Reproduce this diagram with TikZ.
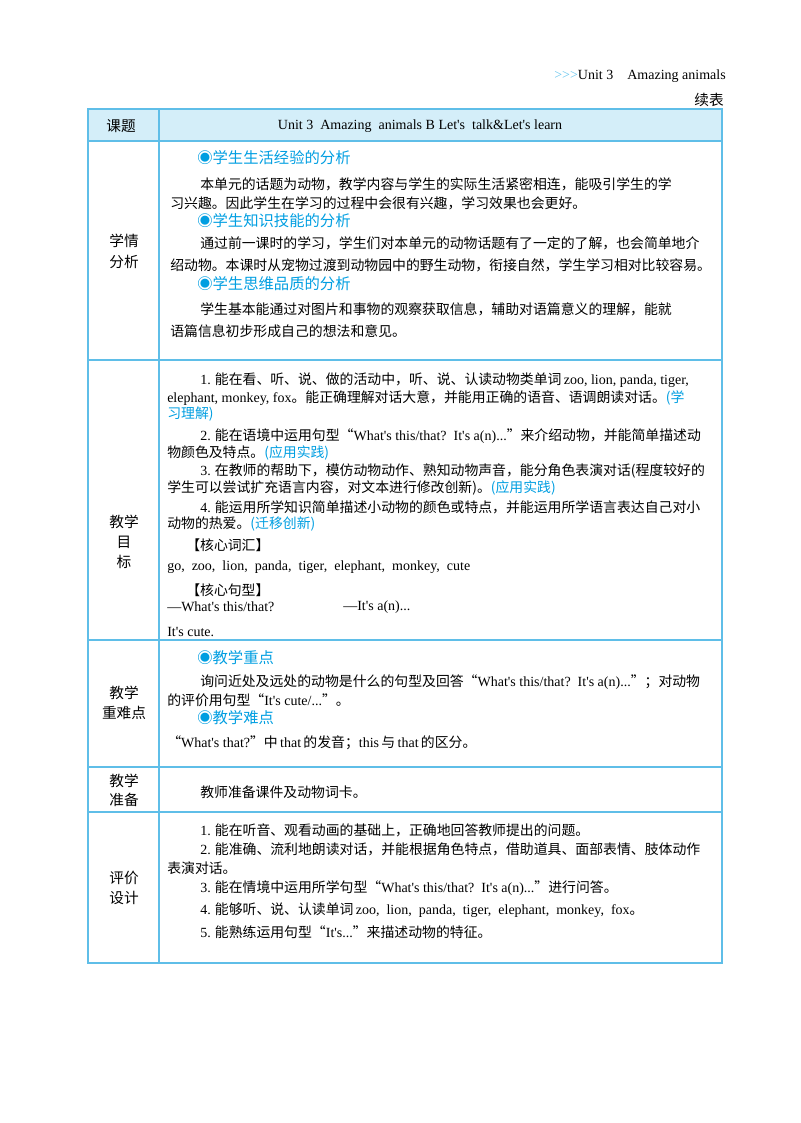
\documentclass[tikz,border=0pt]{standalone}
\usepackage{fontspec}
\setmainfont{Noto Sans CJK SC}
\newfontfamily\enf{Liberation Serif}
\newcommand{\en}[1]{{\enf\fontsize{10.5pt}{12pt}\selectfont #1}}
\definecolor{bl}{RGB}{0,158,225}
\definecolor{hdr}{RGB}{212,238,249}
\definecolor{bd}{RGB}{95,190,232}
\begin{document}
\begin{tikzpicture}[x=0.75pt,y=-0.75pt,
  t/.style={anchor=west,inner sep=0pt,font=\fontsize{10.4pt}{12pt}\selectfont},
  h/.style={t,text=bl,font=\fontsize{11.5pt}{13pt}\selectfont},
  lab/.style={inner sep=0pt,font=\fontsize{11pt}{13pt}\selectfont}]
\useasboundingbox (0,0) rectangle (800,1123);
\fill[hdr] (88,109) rectangle (722,141);
\draw[bd,line width=1pt] (88,109) rectangle (722,963);
\foreach \y in {141,360,640,767,812} \draw[bd,line width=0.8pt] (88,\y) -- (722,\y);
\draw[bd,line width=0.8pt] (159,109) -- (159,963);
\node[anchor=east,inner sep=0pt] (run) at (726,76) {\textcolor{bl!60}{\en{>>>}}\en{Unit 3\quad Amazing animals}};
\node[anchor=east,inner sep=0pt,font=\fontsize{11pt}{13pt}\selectfont] (xb) at (724,100) {续表};
% header
\node[lab] (kt) at (121,126) {课题};
\node[inner sep=0pt] (title) at (420,126) {\en{Unit 3\ \ Amazing\ \ animals B Let's\ \ talk\&Let's learn}};
% row 2
\node[lab] (a1) at (124,241) {学情};
\node[lab] (a2) at (124,262) {分析};
\node[h] (h1) at (197,158) {◉学生生活经验的分析};
\node[t] (l1) at (200,184) {本单元的话题为动物，教学内容与学生的实际生活紧密相连，能吸引学生的学};
\node[t] (l2) at (170,203) {习兴趣。因此学生在学习的过程中会很有兴趣，学习效果也会更好。};
\node[h] (h2) at (197,221) {◉学生知识技能的分析};
\node[t] (l3) at (200,243) {通过前一课时的学习，学生们对本单元的动物话题有了一定的了解，也会简单地介};
\node[t] (l4) at (170,265) {绍动物。本课时从宠物过渡到动物园中的野生动物，衔接自然，学生学习相对比较容易。};
\node[h] (h3) at (197,284) {◉学生思维品质的分析};
\node[t] (l5) at (200,309) {学生基本能通过对图片和事物的观察获取信息，辅助对语篇意义的理解，能就};
\node[t] (l6) at (170,331) {语篇信息初步形成自己的想法和意见。};
% row 3
\node[lab] (b1) at (124,522) {教学};
\node[lab] (b2) at (124,542) {目};
\node[lab] (b3) at (124,562) {标};
\node[t] (m1) at (200,380) {\en{1.} 能在看、听、说、做的活动中，听、说、认读动物类单词\,\en{zoo, lion, panda, tiger,}};
\node[t] (m2) at (167,398) {\en{elephant, monkey, fox}。能正确理解对话大意，并能用正确的语音、语调朗读对话。\textcolor{bl}{(学}};
\node[t,text=bl] (m3) at (167,414) {习理解)};
\node[t] (m4) at (200,436) {\en{2.} 能在语境中运用句型“\en{What's this/that?\ \ It's a(n)...}”来介绍动物，并能简单描述动};
\node[t] (m5) at (167,453) {物颜色及特点。\textcolor{bl}{(应用实践)}};
\node[t] (m6) at (200,471) {\en{3.} 在教师的帮助下，模仿动物动作、熟知动物声音，能分角色表演对话(程度较好的};
\node[t] (m7) at (167,488) {学生可以尝试扩充语言内容，对文本进行修改创新)。\textcolor{bl}{(应用实践)}};
\node[t] (m8) at (200,507) {\en{4.} 能运用所学知识简单描述小动物的颜色或特点，并能运用所学语言表达自己对小};
\node[t] (m9) at (167,524) {动物的热爱。\textcolor{bl}{(迁移创新)}};
\node[t] (m10) at (186,545) {【核心词汇】};
\node[t] (m11) at (167,567) {\en{go,\ \ zoo,\ \ lion,\ \ panda,\ \ tiger,\ \ elephant,\ \ monkey,\ \ cute}};
\node[t] (m12) at (186,590) {【核心句型】};
\node[t] (m13) at (167,607) {\en{—What's this/that?}};
\node[t] (m14) at (343,607) {\en{—It's a(n)...}};
\node[t] (m15) at (167,632) {\en{It's cute.}};
% row 4
\node[lab] (c1) at (124,693) {教学};
\node[lab] (c2) at (124,713) {重难点};
\node[h] (h4) at (197,658) {◉教学重点};
\node[t] (n1) at (200,682) {询问近处及远处的动物是什么的句型及回答“\en{What's this/that?\ \ It's a(n)...}”；对动物};
\node[t] (n2) at (167,700) {的评价用句型“\en{It's cute/...}”。};
\node[h] (h5) at (197,718) {◉教学难点};
\node[t] (n3) at (167,743) {“\en{What's that?}”中\,\en{that}\,的发音；\en{this}\,与\,\en{that}\,的区分。};
% row 5
\node[lab] (d1) at (124,781) {教学};
\node[lab] (d2) at (124,800) {准备};
\node[t] (p1) at (200,792) {教师准备课件及动物词卡。};
% row 6
\node[lab] (e1) at (124,878) {评价};
\node[lab] (e2) at (124,898) {设计};
\node[t] (q1) at (200,830) {\en{1.} 能在听音、观看动画的基础上，正确地回答教师提出的问题。};
\node[t] (q2) at (200,849) {\en{2.} 能准确、流利地朗读对话，并能根据角色特点，借助道具、面部表情、肢体动作};
\node[t] (q3) at (167,868) {表演对话。};
\node[t] (q4) at (200,888) {\en{3.} 能在情境中运用所学句型“\en{What's this/that?\ \ It's a(n)...}”进行问答。};
\node[t] (q5) at (200,910) {\en{4.} 能够听、说、认读单词\,\en{zoo,\ \ lion,\ \ panda,\ \ tiger,\ \ elephant,\ \ monkey,\ \ fox}。};
\node[t] (q6) at (200,932) {\en{5.} 能熟练运用句型“\en{It's...}”来描述动物的特征。};
\end{tikzpicture}
\end{document}
